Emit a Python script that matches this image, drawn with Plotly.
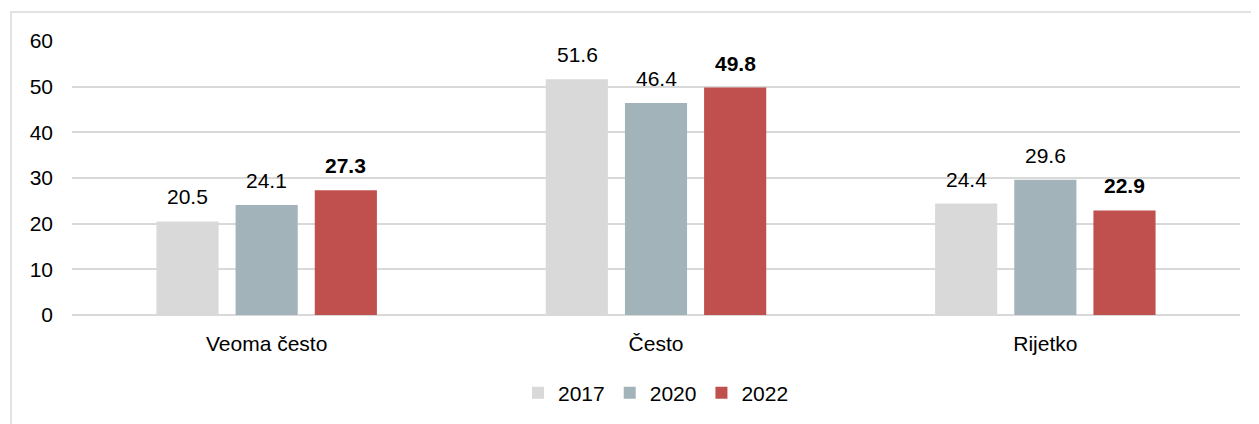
import plotly.graph_objects as go

categories = ["Veoma često", "Često", "Rijetko"]
years = ["2017", "2020", "2022"]
values_2017 = [20.5, 51.6, 24.4]
values_2020 = [24.1, 46.4, 29.6]
values_2022 = [27.3, 49.8, 22.9]
colors = ["#d9d9d9", "#a2b4ba", "#c0504d"]
y_ticks = [0, 10, 20, 30, 40, 50, 60]

series = [values_2017, values_2020, values_2022]
FONT = "Liberation Sans, Arial, sans-serif"
FS = 21

fig = go.Figure()
for name, vals, col in zip(years, series, colors):
    fig.add_trace(go.Bar(
        x=categories, y=vals, name=name, marker=dict(color=col, line=dict(width=0)),
        hoverinfo="skip",
    ))

# value labels
n = len(years)
for i, (name, vals) in enumerate(zip(years, series)):
    bold = name == "2022"
    for j, v in enumerate(vals):
        fig.add_annotation(
            x=categories[j], y=v, xref="x", yref="y",
            text=(f"<b>{v:.1f}</b>" if bold else f"{v:.1f}"),
            showarrow=False, yanchor="bottom", yshift=11,
            xshift=(i - (n - 1) / 2) * 79,
            font=dict(family=FONT, size=FS, color="#000000"),
        )

# page body has an 8px margin: figure occupies (8,8)-(1259,424)
W, H = 1251, 416
L, R, T, B = 64, 19, 33, 108
pw, ph = W - L - R, H - T - B

fig.add_shape(
    type="rect", xref="paper", yref="paper",
    x0=(3 - L) / pw, x1=1 + (R + 20) / pw,
    y0=-(B + 20) / ph, y1=1 + (T - 4) / ph,
    line=dict(color="#d9d9d9", width=1.5), fillcolor="rgba(0,0,0,0)", layer="below",
)

fig.update_layout(
    width=W, height=H,
    margin=dict(l=L, r=R, t=T, b=B),
    paper_bgcolor="white", plot_bgcolor="white",
    barmode="group", bargap=0.39, bargroupgap=0.215,
    font=dict(family=FONT, size=FS, color="#000000"),
    showlegend=True,
    legend=dict(orientation="h", x=0.5, xanchor="center", y=-(393 - 316) / ph, yanchor="middle",
                font=dict(family=FONT, size=FS), itemwidth=30, traceorder="normal"),
    xaxis=dict(showgrid=False, showline=False, ticks="", tickfont=dict(size=FS), ticklabelstandoff=14),
    yaxis=dict(range=[0, 60], tickvals=y_ticks, showgrid=True, gridcolor="#d9d9d9", gridwidth=1.5,
               zeroline=True, zerolinecolor="#d9d9d9", zerolinewidth=1.5,
               showline=False, ticks="", tickfont=dict(size=FS), ticklabelstandoff=18),
)

fig.write_html("out.html")
